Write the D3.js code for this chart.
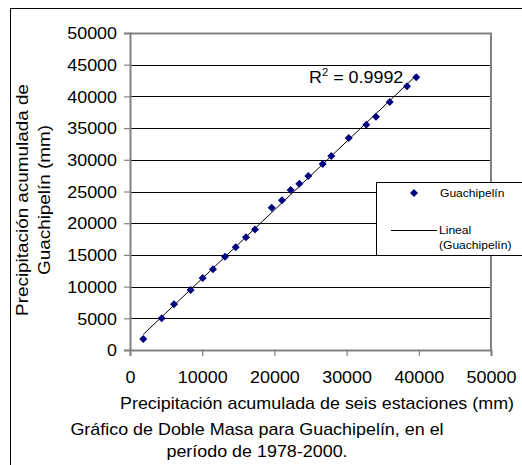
<!DOCTYPE html>
<html>
<head>
<meta charset="utf-8">
<script src="https://cdn.jsdelivr.net/npm/d3@7"></script>
<style>
  html, body { margin: 0; padding: 0; background: #fff; }
  svg { display: block; font-family: "Liberation Sans", Arial, sans-serif; }
</style>
</head>
<body>
<svg id="chart" width="522" height="465"></svg>
<script>
// Cumulative precipitation of six stations (mm)
const xValues = [1840, 4390, 6090, 8400, 10070, 11500, 13160, 14640, 16070, 17310, 19620, 21050,
                 22250, 23450, 24700, 26690, 27880, 30290, 32730, 34070, 35970, 38370, 39650];
// Cumulative precipitation of Guachipelín (mm)
const yValues = [1740, 5000, 7200, 9460, 11360, 12730, 14720, 16200, 17780, 19020, 22450, 23610,
                 25240, 26230, 27440, 29340, 30600, 33440, 35540, 36800, 39120, 41590, 43010];
const xTicks = [0, 10000, 20000, 30000, 40000, 50000];
const yTicks = [0, 5000, 10000, 15000, 20000, 25000, 30000, 35000, 40000, 45000, 50000];
const seriesName = "Guachipelín";
const trendName = ["Lineal", "(Guachipelín)"];
const r2Label = "0.9992";
const xTitle = "Precipitación acumulada de seis estaciones (mm)";
const yTitle = ["Precipitación acumulada de", "Guachipelín (mm)"];
const caption = ["Gráfico de Doble Masa para Guachipelín, en el", "período de 1978-2000."];

const SX = 1.12;   // horizontal glyph stretch seen in the reference
const svg = d3.select("#chart");
const L = 130, R = 491, T = 33, B = 350;
const x = d3.scaleLinear().domain([0, 50000]).range([L, R]);
const y = d3.scaleLinear().domain([0, 50000]).range([B, T]);

function hText(parent, px, py, str, size, anchor, sx) {
  return parent.append("text")
    .attr("transform", `translate(${px},${py}) scale(${sx || SX},1)`)
    .attr("text-anchor", anchor || "start")
    .attr("font-size", size).attr("fill", "#000").text(str);
}

// outer frame
svg.append("rect").attr("x", 10.5).attr("y", 8.5).attr("width", 700).attr("height", 700)
  .attr("fill", "#fff").attr("stroke", "#000").attr("stroke-width", 1);

// gridlines
svg.append("g").selectAll("line").data(yTicks.filter(d => d > 0 && d < 50000)).join("line")
  .attr("x1", L).attr("x2", R)
  .attr("y1", d => Math.round(y(d)) + 0.5).attr("y2", d => Math.round(y(d)) + 0.5)
  .attr("stroke", "#000").attr("stroke-width", 1);

// plot border top / right
svg.append("path")
  .attr("d", `M${L},${T + 0.5}H${R}V${B}`)
  .attr("fill", "none").attr("stroke", "#808080").attr("stroke-width", 2);

// axes
const yAxis = d3.axisLeft(y).tickValues(yTicks).tickSize(6).tickFormat(d3.format("d"));
const xAxis = d3.axisBottom(x).tickValues(xTicks).tickSize(6).tickFormat(d3.format("d"));
const gy = svg.append("g").attr("transform", `translate(${L},0)`).call(yAxis);
const gx = svg.append("g").attr("transform", `translate(0,${B})`).call(xAxis);
[gx, gy].forEach(g => {
  g.select(".domain").attr("stroke", "#808080").attr("stroke-width", 2);
  g.selectAll(".tick line").attr("stroke", "#808080").attr("stroke-width", 1.2);
  g.selectAll(".tick text").attr("fill", "#000").attr("font-size", 16)
    .attr("font-family", "Liberation Sans, Arial, sans-serif");
});
gy.selectAll(".tick text").attr("x", null).attr("dy", "0.36em")
  .attr("transform", `translate(-13,0) scale(${SX},1)`);
gx.selectAll(".tick text").attr("y", null).attr("dy", null)
  .attr("transform", `translate(0,33) scale(${SX},1)`);

// trend line (least squares)
const n = xValues.length;
const mx = d3.mean(xValues), my = d3.mean(yValues);
let sxy = 0, sxx = 0;
for (let i = 0; i < n; i++) { sxy += (xValues[i] - mx) * (yValues[i] - my); sxx += (xValues[i] - mx) ** 2; }
const slope = sxy / sxx, icpt = my - slope * mx;
const x0 = d3.min(xValues), x1 = d3.max(xValues);
svg.append("line")
  .attr("x1", x(x0)).attr("y1", y(icpt + slope * x0))
  .attr("x2", x(x1)).attr("y2", y(icpt + slope * x1))
  .attr("stroke", "#000").attr("stroke-width", 1);

// points
const diamond = "M0,-4L4,0L0,4L-4,0Z";
svg.append("g").selectAll("path").data(xValues.map((d, i) => [d, yValues[i]])).join("path")
  .attr("d", diamond)
  .attr("transform", d => `translate(${x(d[0])},${y(d[1])})`)
  .attr("fill", "#000080");

// R² label
const r2 = hText(svg, 309, 83, null, 16);
r2.append("tspan").text("R");
r2.append("tspan").attr("font-size", 10).attr("dy", -7).text("2");
r2.append("tspan").attr("dy", 7).text(" = " + r2Label);

// legend
const lg = svg.append("g");
lg.append("rect").attr("x", 376.5).attr("y", 182.5).attr("width", 200).attr("height", 73)
  .attr("fill", "#fff").attr("stroke", "#000").attr("stroke-width", 1);
lg.append("path").attr("d", diamond).attr("transform", "translate(414,193)").attr("fill", "#000080");
hText(lg, 440, 197, seriesName, 11.5, "start", 1.05);
lg.append("line").attr("x1", 391).attr("x2", 437).attr("y1", 230.5).attr("y2", 230.5)
  .attr("stroke", "#000").attr("stroke-width", 1);
hText(lg, 439, 234, trendName[0], 11.5, "start", 1.05);
hText(lg, 439, 249, trendName[1], 11.5, "start", 1.05);

// axis titles
hText(svg, 317, 409, xTitle, 16, "middle");
const yt = svg.append("g").attr("transform", "translate(0,200) rotate(-90)");
yt.append("text").attr("transform", "translate(0,28) scale(1.18,1)").attr("text-anchor", "middle")
  .attr("font-size", 16).text(yTitle[0]);
yt.append("text").attr("transform", "translate(0,50) scale(1.18,1)").attr("text-anchor", "middle")
  .attr("font-size", 16).text(yTitle[1]);

// caption
hText(svg, 257, 435, caption[0], 16, "middle");
hText(svg, 257, 457, caption[1], 16, "middle");
</script>
</body>
</html>
